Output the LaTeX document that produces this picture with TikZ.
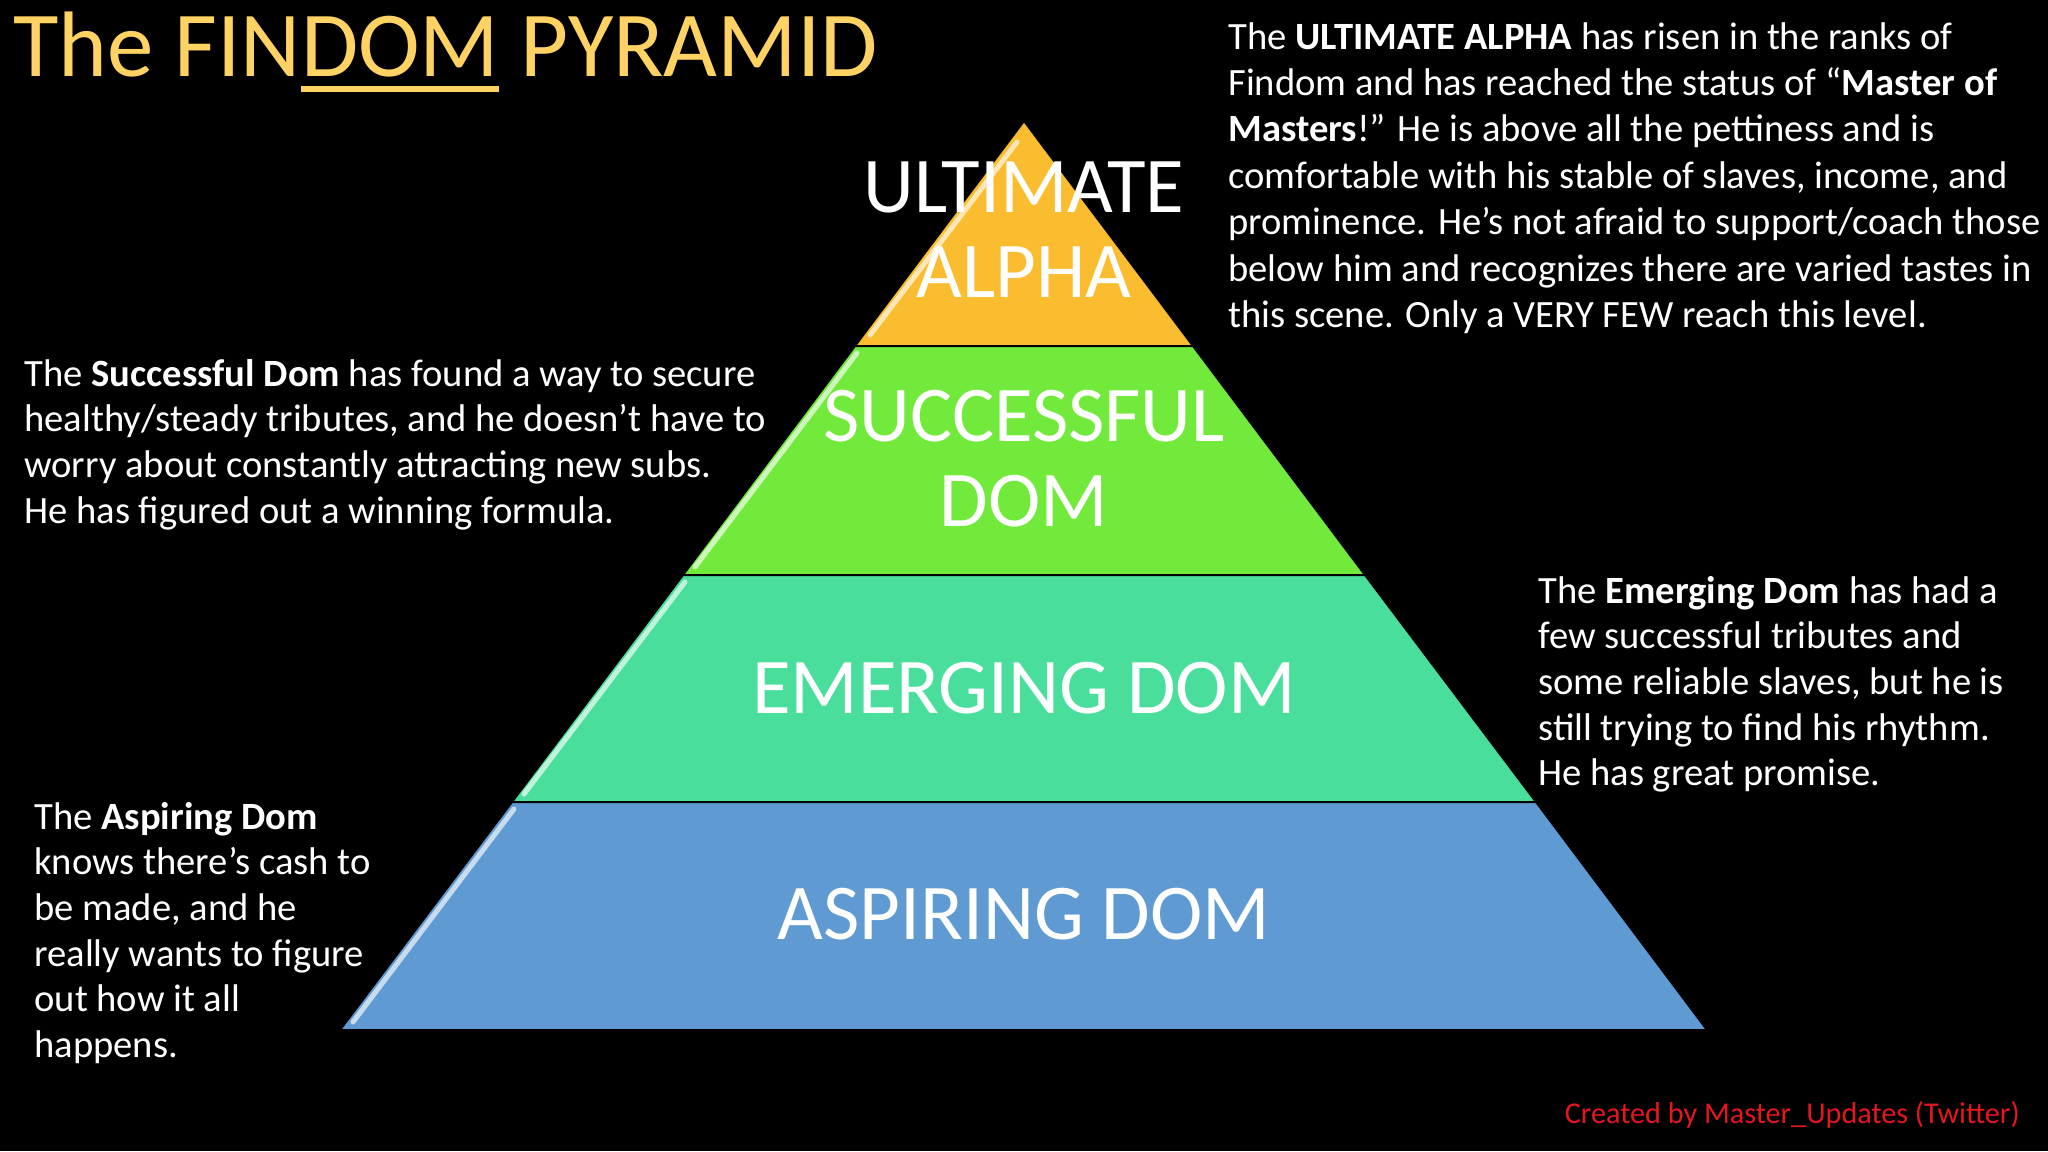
\documentclass[tikz,border=0pt]{standalone}
\usepackage{fontspec}
\setmainfont{Carlito}
\definecolor{titlecol}{RGB}{255,210,100}
\definecolor{goldtier}{RGB}{251,189,48}
\definecolor{greentier}{RGB}{113,234,59}
\definecolor{tealtier}{RGB}{74,222,157}
\definecolor{bluetier}{RGB}{95,155,210}
\definecolor{creditred}{RGB}{228,22,30}
\newsavebox\ulsavebox
\newcommand\ulword[1]{\sbox\ulsavebox{#1}\usebox\ulsavebox\hspace{-\wd\ulsavebox}\raisebox{-8pt}{\rule{\wd\ulsavebox}{3pt}}}
\begin{document}
\begin{tikzpicture}[x=0.5pt,y=-0.5pt,
  para/.style={anchor=base west,inner sep=0,text=white,font=\fontsize{19.3}{22.85}\selectfont},
  widepara/.style={para,font=\fontsize{19.3}{23.2}\selectfont},
  tierlabel/.style={anchor=base,inner sep=0,text=white,font=\fontsize{39.5}{42.5}\selectfont},
  tier/.style={draw=black,line width=1pt},
  hl/.style={white,opacity=0.65,line width=2.5pt,line cap=round}]
\fill[black] (0,0) rectangle (2048,1151);
\useasboundingbox (0,0) rectangle (2048,1151);
% pyramid tiers
\filldraw[tier,fill=goldtier] (1024,121) -- (1193,346) -- (855,346) -- cycle;
\filldraw[tier,fill=greentier] (855,346) -- (1193,346) -- (1365,575) -- (683,575) -- cycle;
\filldraw[tier,fill=tealtier] (683,575) -- (1365,575) -- (1536,802) -- (512,802) -- cycle;
\filldraw[tier,fill=bluetier] (512,802) -- (1536,802) -- (1707,1030) -- (340,1030) -- cycle;
% bevel highlights
\draw[hl] (1017,142) -- (870,335);
\draw[hl] (857,353) -- (695,567);
\draw[hl] (685,582) -- (524,794);
\draw[hl] (514,809) -- (353,1022);
% tier labels
\node[tierlabel] (ultimate) at (1024,212) {\parbox[t]{320pt}{\centering ULTIMATE\\ALPHA}};
\node[tierlabel] (successful) at (1024,441) {\parbox[t]{320pt}{\centering SUCCESSFUL\\DOM}};
\node[tierlabel] (emerging) at (1024,713) {EMERGING DOM};
\node[tierlabel] (aspiring) at (1024,939) {ASPIRING DOM};
% title
\node[anchor=base west,inner sep=0,text=titlecol,font=\fontsize{46.5}{50}\selectfont] (title) at (13,76) {The FIN\ulword{DOM} PYRAMID};
% paragraphs
\node[widepara] (ultimatetext) at (1228,49) {\parbox[t]{430pt}{\raggedright
The \textbf{ULTIMATE ALPHA} has risen in the ranks of\\
Findom and has reached the status of “\textbf{Master of}\\
\textbf{Masters}!” He is above all the pettiness and is\\
comfortable with his stable of slaves, income, and\\
prominence. He’s not afraid to support/coach those\\
below him and recognizes there are varied tastes in\\
this scene. Only a VERY FEW reach this level.}};
\node[para] (successfultext) at (24,386) {\parbox[t]{400pt}{\raggedright
The \textbf{Successful Dom} has found a way to secure\\
healthy/steady tributes, and he doesn’t have to\\
worry about constantly attracting new subs.\\
He has figured out a winning formula.}};
\node[para] (emergingtext) at (1538,603) {\parbox[t]{280pt}{\raggedright
The \textbf{Emerging Dom} has had a\\
few successful tributes and\\
some reliable slaves, but he is\\
still trying to find his rhythm.\\
He has great promise.}};
\node[para] (aspiringtext) at (34,829) {\parbox[t]{200pt}{\raggedright
The \textbf{Aspiring Dom}\\
knows there’s cash to\\
be made, and he\\
really wants to figure\\
out how it all\\
happens.}};
% credit
\node[anchor=base east,inner sep=0,text=creditred,font=\fontsize{15.1}{17}\selectfont] (credit) at (2020,1123) {Created by Master\_Updates (Twitter)};
\end{tikzpicture}
\end{document}
